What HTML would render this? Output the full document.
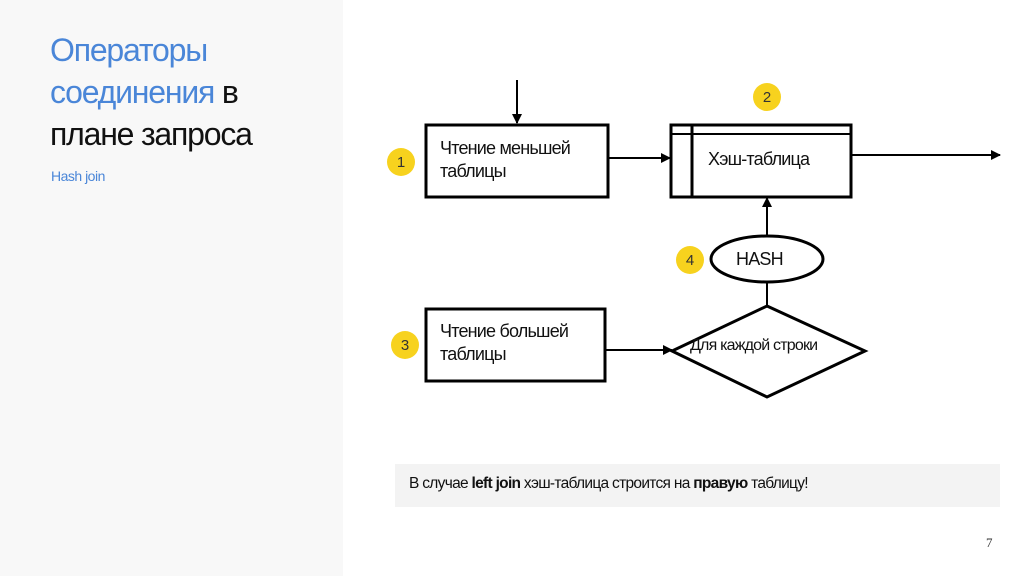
<!DOCTYPE html>
<html><head><meta charset="utf-8"><style>
body{margin:0;width:1024px;height:576px;overflow:hidden;background:#fff;font-family:"Liberation Sans","DejaVu Sans",sans-serif;}
.left{position:absolute;left:0;top:0;width:343px;height:576px;background:#f8f8f8;}
.t{position:absolute;left:50px;top:29px;font-size:32px;line-height:42px;letter-spacing:-1.2px;color:#111;}
.b{color:#4a86d8}
.sub{position:absolute;left:51px;top:168px;font-size:14px;color:#4a86d8;letter-spacing:-0.5px}
.note{position:absolute;left:395px;top:464px;width:605px;height:43px;background:#f3f3f3;}
.note span{position:absolute;left:14px;top:11px;font-size:15.5px;letter-spacing:-0.7px;color:#111}
.pg{position:absolute;left:986px;top:535px;font-size:13px;font-family:"Liberation Serif",serif;color:#333}
</style></head><body>
<div class="left"></div>
<div class="t"><span class="b">Операторы</span><br><span class="b">соединения</span> в<br>плане запроса</div>
<div class="sub">Hash join</div>
<svg width="1024" height="576" style="position:absolute;left:0;top:0" font-family="Liberation Sans, sans-serif">
<defs><marker id="a" markerWidth="10" markerHeight="10" refX="9" refY="5" orient="auto" markerUnits="userSpaceOnUse"><path d="M0,0 L10,5 L0,10z" fill="#000"/></marker></defs>
<g stroke="#000" fill="none">
<line x1="517" y1="80" x2="517" y2="123" stroke-width="2" marker-end="url(#a)"/>
<rect x="426" y="125" width="182" height="72" stroke-width="3"/>
<rect x="671" y="125" width="180" height="72" stroke-width="3"/>
<line x1="692" y1="125" x2="692" y2="197" stroke-width="3"/>
<line x1="671" y1="134" x2="851" y2="134" stroke-width="2"/>
<line x1="608" y1="158" x2="670" y2="158" stroke-width="2" marker-end="url(#a)"/>
<line x1="851" y1="155" x2="1000" y2="155" stroke-width="2" marker-end="url(#a)"/>
<ellipse cx="767" cy="259" rx="56" ry="23" stroke-width="3"/>
<line x1="767" y1="236" x2="767" y2="198" stroke-width="2" marker-end="url(#a)"/>
<line x1="767" y1="282" x2="767" y2="306" stroke-width="2"/>
<path d="M767,306 L865,351 L767,397 L672,351 Z" stroke-width="3"/>
<rect x="426" y="309" width="179" height="72" stroke-width="3"/>
<line x1="605" y1="350" x2="672" y2="350" stroke-width="2" marker-end="url(#a)"/>
</g>
<g fill="#f7d21e"><circle cx="767" cy="97" r="14"/><circle cx="401" cy="162" r="14"/><circle cx="405" cy="345" r="14"/><circle cx="690" cy="260" r="14"/></g>
<g font-size="15" fill="#333" text-anchor="middle"><text x="767" y="102">2</text><text x="401" y="167">1</text><text x="405" y="350">3</text><text x="690" y="265">4</text></g>
<g font-size="18" fill="#111" letter-spacing="-0.8">
<text x="440" y="154">Чтение меньшей</text><text x="440" y="177">таблицы</text>
<text x="708" y="165">Хэш-таблица</text>
<text x="736" y="265">HASH</text>
<text x="440" y="337">Чтение большей</text><text x="440" y="360">таблицы</text>
<text x="690" y="350" font-size="16">Для каждой строки</text>
</g>
</svg>
<div class="note"><span>В случае <b>left join</b> хэш-таблица строится на <b>правую</b> таблицу!</span></div>
<div class="pg">7</div>
</body></html>
